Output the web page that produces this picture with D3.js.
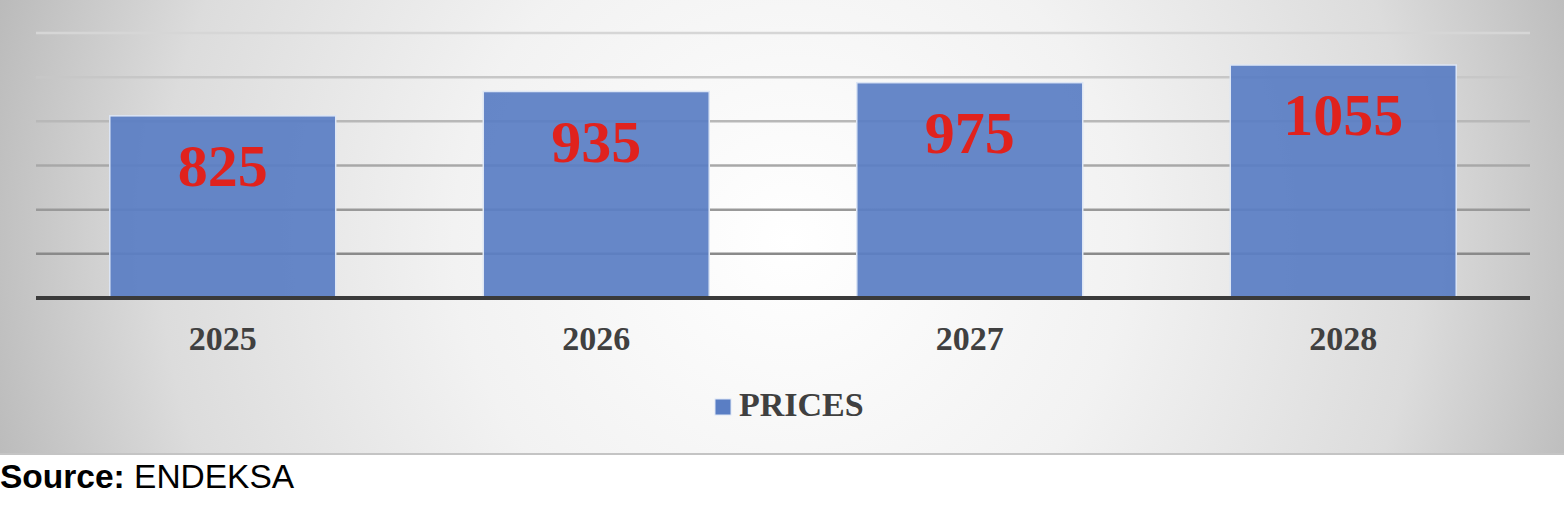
<!DOCTYPE html>
<html>
<head>
<meta charset="utf-8">
<script src="https://cdn.jsdelivr.net/npm/d3@7"></script>
<style>
  body { margin: 0; background: #fff; }
  svg { display: block; }
</style>
</head>
<body>
<div id="chart"></div>
<script>
const years = ["2025", "2026", "2027", "2028"];
const prices = [825, 935, 975, 1055];
const gridValues = [200, 400, 600, 800, 1000, 1200];
const seriesName = "PRICES";
const sourceLabel = "Source:";
const sourceName = "ENDEKSA";

const W = 1564, H = 506;
const plot = { left: 36, right: 1530, top: 33, bottom: 298 };

const svg = d3.select("#chart").append("svg")
    .attr("width", W)
    .attr("height", H);

// soft grey radial background like the office chart area
const defs = svg.append("defs");
const grad = defs.append("radialGradient")
    .attr("id", "bg")
    .attr("gradientUnits", "userSpaceOnUse")
    .attr("cx", 790).attr("cy", 240)
    .attr("r", 840);
grad.append("stop").attr("offset", "0%").attr("stop-color", "#ffffff");
grad.append("stop").attr("offset", "40%").attr("stop-color", "#f2f2f2");
grad.append("stop").attr("offset", "75%").attr("stop-color", "#dcdcdc");
grad.append("stop").attr("offset", "100%").attr("stop-color", "#b8b8b8");

svg.append("rect")
    .attr("x", 0).attr("y", 0)
    .attr("width", W).attr("height", 455)
    .attr("fill", "url(#bg)");
svg.append("line")
    .attr("x1", 0).attr("x2", W)
    .attr("y1", 454).attr("y2", 454)
    .attr("stroke", "#c4c4c4")
    .attr("stroke-width", 2);

const x = d3.scaleBand()
    .domain(years)
    .range([plot.left, plot.right])
    .paddingInner(0.395)
    .paddingOuter(0.1975);

const y = d3.scaleLinear()
    .domain([0, 1200])
    .range([plot.bottom, plot.top]);

// gridlines get lighter towards the top
const gridColor = d3.scaleLinear()
    .domain([200, 1200])
    .range(["#8a8a8a", "#d6d6d6"]);

svg.append("g")
    .selectAll("line")
    .data(gridValues)
    .join("line")
    .attr("x1", plot.left)
    .attr("x2", plot.right)
    .attr("y1", d => y(d))
    .attr("y2", d => y(d))
    .attr("stroke", d => gridColor(d))
    .attr("stroke-width", 2.5);

svg.append("g")
    .selectAll("rect")
    .data(prices)
    .join("rect")
    .attr("x", (d, i) => x(years[i]))
    .attr("y", d => y(d))
    .attr("width", x.bandwidth())
    .attr("height", d => y(0) - y(d))
    .attr("fill", "#5a7ec4")
    .attr("fill-opacity", 0.93)
    .attr("stroke", "#dde6f5")
    .attr("stroke-width", 1.5);

svg.append("g")
    .selectAll("text")
    .data(prices)
    .join("text")
    .attr("x", (d, i) => x(years[i]) + x.bandwidth() / 2)
    .attr("y", d => y(d) + 70)
    .attr("text-anchor", "middle")
    .attr("font-family", "'Liberation Serif', 'Times New Roman', serif")
    .attr("font-weight", "bold")
    .attr("font-size", 60)
    .attr("fill", "#e0221d")
    .text(d => d);

// x axis line and year labels
svg.append("line")
    .attr("x1", plot.left)
    .attr("x2", plot.right)
    .attr("y1", y(0))
    .attr("y2", y(0))
    .attr("stroke", "#3a3a3a")
    .attr("stroke-width", 4);

const xAxis = svg.append("g")
    .attr("transform", `translate(0,${y(0)})`)
    .call(d3.axisBottom(x).tickSize(0).tickPadding(0));
xAxis.select(".domain").remove();
xAxis.selectAll("text")
    .attr("dy", null)
    .attr("y", 52)
    .attr("font-family", "'Liberation Serif', 'Times New Roman', serif")
    .attr("font-weight", "bold")
    .attr("font-size", 34)
    .attr("fill", "#404040");

// legend
const legend = svg.append("g").attr("transform", "translate(715,399)");
legend.append("rect")
    .attr("width", 16).attr("height", 16)
    .attr("fill", "#5a7ec4")
    .attr("stroke", "#dde6f5");
legend.append("text")
    .attr("x", 24).attr("y", 17)
    .attr("font-family", "'Liberation Serif', 'Times New Roman', serif")
    .attr("font-weight", "bold")
    .attr("font-size", 34)
    .attr("fill", "#404040")
    .text(seriesName);

// source note
const src = svg.append("text")
    .attr("x", 0).attr("y", 488)
    .attr("font-family", "'Liberation Sans', Arial, sans-serif")
    .attr("font-size", 33.5)
    .attr("fill", "#000");
src.append("tspan").attr("font-weight", "bold").text(sourceLabel);
src.append("tspan").text(" " + sourceName);
</script>
</body>
</html>
